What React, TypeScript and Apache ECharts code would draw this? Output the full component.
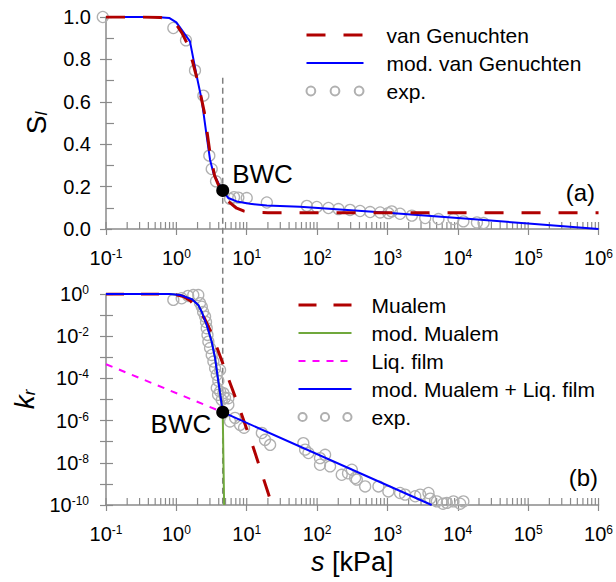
import React, { useEffect, useRef } from 'react';
import * as echarts from 'echarts';

// ---------- (a) degree of saturation ----------
const vgS = [0.1, 0.3, 0.6, 0.8, 1.0, 1.2, 1.4, 1.7, 2.0, 2.5, 3.0, 3.5, 4.0, 4.56, 5.5, 7.2, 9.0, 12.4, 20, 100, 1e3, 1e4, 1e5, 1e6];
const vgSl = [1.0, 1.0, 0.998, 0.99, 0.965, 0.925, 0.88, 0.79, 0.7, 0.55, 0.36, 0.25, 0.205, 0.17, 0.13, 0.098, 0.085, 0.079, 0.077, 0.077, 0.077, 0.077, 0.077, 0.077];

const mvgS = [0.1, 0.5, 0.8, 1.0, 1.56, 1.95, 2.29, 2.7, 3.01, 3.36, 3.95, 4.56, 5.48, 7.2, 11.1, 19.3, 57, 1e3, 1e4, 1e5, 1e6];
const mvgSl = [1.0, 1.0, 0.995, 0.975, 0.885, 0.72, 0.61, 0.437, 0.327, 0.264, 0.217, 0.182, 0.146, 0.13, 0.119, 0.111, 0.105, 0.077, 0.052, 0.026, 0.0];

const expTopS = [0.09, 0.906, 1.37, 1.84, 2.42, 2.94, 3.18, 3.66, 5.8, 6.6, 7.6, 10, 19.3, 71.5, 99, 145, 201, 294, 408, 567, 787, 1030, 1150, 1510, 2220, 3440, 5310, 8670, 12000, 18700, 23200];
const expTopSl = [1.0, 0.948, 0.89, 0.748, 0.629, 0.346, 0.283, 0.225, 0.142, 0.15, 0.148, 0.146, 0.125, 0.109, 0.104, 0.099, 0.094, 0.09, 0.085, 0.08, 0.078, 0.075, 0.083, 0.072, 0.063, 0.052, 0.047, 0.047, 0.036, 0.031, 0.028];

// ---------- (b) relative permeability ----------
const muS = [0.1, 0.63, 1.0, 1.26, 1.58, 2.0, 2.51, 3.16, 3.98, 5.01, 6.31, 7.94, 10, 12.6, 15.8, 20, 22.9];
const muK = [1, 1, 0.91, 0.76, 0.48, 0.2, 0.07, 1.4e-2, 1.8e-3, 2.2e-4, 2.8e-5, 3.5e-6, 4.0e-7, 4.5e-8, 4.5e-9, 4.0e-10, 1e-10];

const modMuS = [0.1, 0.8, 1.13, 1.65, 2.05, 2.29, 2.7, 3.18, 3.55, 3.83, 4.08, 4.28, 4.56, 4.77];
const modMuK = [1, 1, 0.89, 0.575, 0.3, 0.145, 0.034, 5.5e-3, 9.1e-4, 1.48e-4, 3.5e-5, 1.15e-5, 2.5e-6, 1e-10];

const liqS = [0.1, 4.56];
const liqK = [4.7e-4, 2.5e-6];

const mmlS = [0.1, 0.8, 1.13, 1.65, 2.05, 2.29, 2.7, 3.18, 3.55, 3.83, 4.08, 4.28, 4.56, 4250];
const mmlK = [1, 1, 0.89, 0.575, 0.3, 0.145, 0.034, 5.5e-3, 9.1e-4, 1.48e-4, 3.5e-5, 1.15e-5, 2.5e-6, 1e-10];

const expBotS = [0.906, 1.19, 1.47, 1.74, 2.05, 2.17, 2.3, 2.4, 2.56, 2.64, 2.7, 2.77, 2.85, 3.01, 3.18, 3.36, 3.55, 3.75, 3.75, 3.95, 4.18, 4.42, 4.92, 3.91, 4.18, 4.66, 5.48, 5.48, 5.79, 6.82, 8.04, 9.16, 16.4, 18.2, 21.5, 63.8, 67.6, 75.3, 110, 130, 110, 153, 224, 275, 312, 347, 367, 482, 745, 1030, 1510, 1780, 2480, 2920, 3830, 4050, 5040, 6980, 8670, 10800, 12000, 6170];
const expBotK = [0.525, 0.63, 0.81, 0.89, 0.89, 0.37, 0.25, 0.14, 0.085, 0.047, 0.024, 0.0115, 5.5e-3, 2.75e-3, 1.29e-3, 6.3e-4, 3.0e-4, 1.48e-4, 3.5e-5, 7.6e-5, 2.4e-5, 9.5e-6, 1.2e-5, 1.66e-5, 2.5e-4, 2.0e-5, 1.15e-5, 5.6e-6, 9.1e-7, 1.35e-6, 6.3e-7, 4.6e-7, 2.6e-7, 1.23e-7, 7.1e-8, 8.5e-8, 4.2e-8, 2.9e-8, 1.66e-8, 2.4e-8, 8.1e-9, 6.8e-9, 2.7e-9, 3.2e-9, 4.7e-9, 1.9e-9, 1.6e-9, 7.6e-10, 7.6e-10, 4.4e-10, 3.7e-10, 3.1e-10, 2.6e-10, 3.1e-10, 3.7e-10, 2.0e-10, 1.48e-10, 1.26e-10, 1.48e-10, 1.15e-10, 1.48e-10, 1.15e-10];

// BWC point
const bwcS = 4.56;
const bwcSl = 0.182;
const bwcK = 2.5e-6;
const bwcGuideTopSl = 0.714;
const kMin = 1e-10;

// axes
const xDecades = [-1, 0, 1, 2, 3, 4, 5];
const minorMultipliers = [1, 2, 3, 4, 5, 6, 7, 8, 9];
const xLast = 1e6;

const FONT = 'Arial, "Liberation Sans", Helvetica, sans-serif';
const AXIS = '#8a8a8a';
const RED = '#b00000';
const BLUE = '#0000ff';
const GREEN = '#70a83c';
const MAGENTA = '#ff00ff';
const GREY = '#b0b0b0';
const lg = Math.log10;

const pairs = (xs: number[], ys: number[], logY: boolean) =>
  xs.map((x, i) => [lg(x), logY ? lg(ys[i]) : ys[i]]);

const EXP_ICON =
  'path://M0,5a5,5 0 1,0 10,0a5,5 0 1,0 -10,0M27.5,5a5,5 0 1,0 10,0a5,5 0 1,0 -10,0M55,5a5,5 0 1,0 10,0a5,5 0 1,0 -10,0';

const tickRich = {
  b: { fontSize: 20, lineHeight: 20, color: '#000', fontFamily: FONT },
  sup: { fontSize: 12, lineHeight: 12, verticalAlign: 'top', color: '#000', fontFamily: FONT },
};

const hideSym = { opacity: 0 };

export default function App() {
  const ref = useRef<HTMLDivElement>(null);
  useEffect(() => {
    if (!ref.current) return;
    const chart = echarts.init(ref.current, undefined, { renderer: 'svg' });

    const minorTickVals: number[] = [];
    xDecades.forEach((d) => minorMultipliers.forEach((m) => minorTickVals.push(lg(m * Math.pow(10, d)))));
    minorTickVals.push(lg(xLast));

    const mkX = (gridIndex: number, name: string) => ({
      type: 'value',
      gridIndex,
      min: -1,
      max: 6,
      interval: 1,
      axisLine: { onZero: false, lineStyle: { color: AXIS, width: 1.5 } },
      axisTick: { show: true, inside: false, length: 6, lineStyle: { color: AXIS, width: 1.2 } },
      axisLabel: {
        margin: 19,
        formatter: (v: number) => `{b|10}{sup|${Math.round(v)}}`,
        rich: tickRich,
      },
      splitLine: { show: false },
      name,
      nameLocation: 'middle',
      nameGap: 43,
      nameTextStyle: {
        rich: {
          i: { fontSize: 27, fontStyle: 'italic', color: '#000', fontFamily: FONT },
          n: { fontSize: 27, color: '#000', fontFamily: FONT },
        },
      },
    });

    const tickSeries = (xAxisIndex: number, yAxisIndex: number, yBase: number) => ({
      type: 'custom',
      name: 'ticks' + xAxisIndex,
      xAxisIndex,
      yAxisIndex,
      silent: true,
      clip: false,
      data: minorTickVals.map((v) => [v, yBase]),
      renderItem: (params: any, api: any) => {
        const p = api.coord([api.value(0), api.value(1)]);
        return {
          type: 'line',
          shape: { x1: p[0], y1: p[1], x2: p[0], y2: p[1] - 7 },
          style: { stroke: AXIS, lineWidth: 1.2 },
        };
      },
    });

    const option: any = {
      animation: false,
      textStyle: { fontFamily: FONT },
      grid: [
        { left: 106, top: 17, width: 494, height: 212 },
        { left: 106, top: 294, width: 494, height: 211 },
      ],
      title: [
        { text: '(a)', right: 21, top: 180, padding: 0, textStyle: { fontSize: 24, fontWeight: 'normal', color: '#000', fontFamily: FONT } },
        { text: '(b)', right: 18, top: 465, padding: 0, textStyle: { fontSize: 24, fontWeight: 'normal', color: '#000', fontFamily: FONT } },
      ],
      xAxis: [mkX(0, ''), mkX(1, '{i|s}{n| [kPa]}')],
      yAxis: [
        {
          type: 'value', gridIndex: 0, position: 'left', min: 0, max: 1, interval: 0.2,
          axisLine: { onZero: false, lineStyle: { color: AXIS, width: 1.5 } },
          axisTick: { show: true, inside: false, length: 6, lineStyle: { color: AXIS, width: 1.2 } },
          axisLabel: { margin: 15, fontSize: 20, color: '#000', formatter: (v: number) => v.toFixed(1) },
          splitLine: { show: false },
          name: '{m|S}{sub|l}', nameLocation: 'middle', nameRotate: 90, nameGap: 56,
          nameTextStyle: {
            rich: {
              m: { fontSize: 28, lineHeight: 28, color: '#000', fontFamily: FONT },
              sub: { fontSize: 17, lineHeight: 17, verticalAlign: 'bottom', fontStyle: 'italic', color: '#000', fontFamily: FONT },
            },
          },
        },
        {
          type: 'value', gridIndex: 0, position: 'left', min: 0, max: 1, interval: 0.2,
          axisLine: { show: false, onZero: false },
          axisTick: { show: true, inside: true, length: 6, lineStyle: { color: AXIS, width: 1.2 } },
          minorTick: { show: true, splitNumber: 2, length: 8, lineStyle: { color: AXIS, width: 1.2 } },
          axisLabel: { show: false },
          splitLine: { show: false },
        },
        {
          type: 'value', gridIndex: 1, position: 'left', min: -10, max: 0, interval: 1,
          axisLine: { onZero: false, lineStyle: { color: AXIS, width: 1.5 } },
          axisTick: { show: true, inside: false, length: 6, lineStyle: { color: AXIS, width: 1.2 } },
          axisLabel: {
            margin: 17,
            formatter: (v: number) => (Math.round(v) % 2 === 0 ? `{b|10}{sup|${Math.round(v)}}` : ''),
            rich: tickRich,
          },
          splitLine: { show: false },
          name: '{m|k}{sub|r}', nameLocation: 'middle', nameRotate: 90, nameGap: 68,
          nameTextStyle: {
            rich: {
              m: { fontSize: 28, lineHeight: 28, fontStyle: 'italic', color: '#000', fontFamily: FONT },
              sub: { fontSize: 17, lineHeight: 17, verticalAlign: 'bottom', fontStyle: 'italic', color: '#000', fontFamily: FONT },
            },
          },
        },
        {
          type: 'value', gridIndex: 1, position: 'left', min: -10, max: 0, interval: 1,
          axisLine: { show: false, onZero: false },
          axisTick: { show: true, inside: true, length: 7, lineStyle: { color: AXIS, width: 1.2 } },
          axisLabel: { show: false },
          splitLine: { show: false },
        },
      ],
      legend: [
        {
          orient: 'vertical', left: 305, top: 24.5, padding: 0, itemWidth: 57, itemHeight: 14, itemGap: 7,
          selectedMode: false,
          textStyle: { fontSize: 21, lineHeight: 21, color: '#000', fontFamily: FONT, padding: [0, 0, 0, 18] },
          data: [
            { name: 'van Genuchten', lineStyle: { width: 3 }, itemStyle: hideSym },
            { name: 'mod. van Genuchten', lineStyle: { width: 2 }, itemStyle: hideSym },
            { name: 'exp.', icon: EXP_ICON },
          ],
        },
        {
          orient: 'vertical', left: 297, top: 294.5, padding: 0, itemWidth: 53, itemHeight: 14, itemGap: 7,
          selectedMode: false,
          textStyle: { fontSize: 21, lineHeight: 21, color: '#000', fontFamily: FONT, padding: [0, 0, 0, 15] },
          data: [
            { name: 'Mualem', lineStyle: { width: 3 }, itemStyle: hideSym },
            { name: 'mod. Mualem', lineStyle: { width: 2 }, itemStyle: hideSym },
            { name: 'Liq. film', lineStyle: { width: 2 }, itemStyle: hideSym },
            { name: 'mod. Mualem + Liq. film', lineStyle: { width: 2 }, itemStyle: hideSym },
            { name: 'exp.', icon: EXP_ICON },
          ],
        },
      ],
      series: [
        tickSeries(0, 0, 0),
        tickSeries(1, 2, lg(kMin)),
        {
          type: 'scatter', name: 'exp.', xAxisIndex: 0, yAxisIndex: 0, clip: false, z: 2,
          symbol: 'circle', symbolSize: 11,
          itemStyle: { color: 'rgba(255,255,255,0)', borderColor: GREY, borderWidth: 1.3, opacity: 1 },
          data: pairs(expTopS, expTopSl, false),
        },
        {
          type: 'line', name: 'mod. van Genuchten', xAxisIndex: 0, yAxisIndex: 0, z: 3,
          symbol: 'none', showSymbol: false,
          lineStyle: { color: BLUE, width: 2 }, itemStyle: { color: BLUE },
          data: pairs(mvgS, mvgSl, false),
        },
        {
          type: 'line', name: 'van Genuchten', xAxisIndex: 0, yAxisIndex: 0, z: 4,
          symbol: 'none', showSymbol: false,
          lineStyle: { color: RED, width: 3, type: [19, 18] }, itemStyle: { color: RED },
          data: pairs(vgS, vgSl, false),
        },
        {
          type: 'scatter', name: 'BWC', xAxisIndex: 0, yAxisIndex: 0, z: 6,
          symbol: 'circle', symbolSize: 13, itemStyle: { color: '#000', opacity: 1 },
          label: { show: true, position: 'right', offset: [-2, -16], formatter: 'BWC', fontSize: 26, color: '#000', fontFamily: FONT },
          data: [[lg(bwcS), bwcSl]],
        },
        {
          type: 'scatter', name: 'exp.', xAxisIndex: 1, yAxisIndex: 2, clip: false, z: 2,
          symbol: 'circle', symbolSize: 11,
          itemStyle: { color: 'rgba(255,255,255,0)', borderColor: GREY, borderWidth: 1.3, opacity: 1 },
          data: pairs(expBotS, expBotK, true),
        },
        {
          type: 'line', name: 'Liq. film', xAxisIndex: 1, yAxisIndex: 2, z: 3,
          symbol: 'none', showSymbol: false,
          lineStyle: { color: MAGENTA, width: 2, type: [7, 7] }, itemStyle: { color: MAGENTA },
          data: pairs(liqS, liqK, true),
        },
        {
          type: 'line', name: 'mod. Mualem', xAxisIndex: 1, yAxisIndex: 2, z: 3,
          symbol: 'none', showSymbol: false,
          lineStyle: { color: GREEN, width: 2 }, itemStyle: { color: GREEN },
          data: pairs(modMuS, modMuK, true),
        },
        {
          type: 'line', name: 'Mualem', xAxisIndex: 1, yAxisIndex: 2, z: 4,
          symbol: 'none', showSymbol: false,
          lineStyle: { color: RED, width: 3, type: [18, 17] }, itemStyle: { color: RED },
          data: pairs(muS, muK, true),
        },
        {
          type: 'line', name: 'mod. Mualem + Liq. film', xAxisIndex: 1, yAxisIndex: 2, z: 5,
          symbol: 'none', showSymbol: false,
          lineStyle: { color: BLUE, width: 2 }, itemStyle: { color: BLUE },
          data: pairs(mmlS, mmlK, true),
        },
        {
          type: 'scatter', name: 'BWC', xAxisIndex: 1, yAxisIndex: 2, z: 6,
          symbol: 'circle', symbolSize: 13, itemStyle: { color: '#000', opacity: 1 },
          label: { show: true, position: 'left', offset: [0, 12], formatter: 'BWC', fontSize: 26, color: '#000', fontFamily: FONT },
          data: [[lg(bwcS), lg(bwcK)]],
        },
      ],
    };

    chart.setOption(option);

    const p1 = chart.convertToPixel({ xAxisIndex: 0, yAxisIndex: 0 } as any, [lg(bwcS), bwcGuideTopSl]) as number[];
    const p2 = chart.convertToPixel({ xAxisIndex: 1, yAxisIndex: 2 } as any, [lg(bwcS), lg(kMin)]) as number[];
    chart.setOption({
      graphic: [
        {
          type: 'line', z: 1, silent: true,
          shape: { x1: p1[0], y1: p1[1], x2: p2[0], y2: p2[1] },
          style: { stroke: '#808080', lineWidth: 1.5, lineDash: [6, 4] },
        },
      ],
    });

    return () => chart.dispose();
  }, []);

  return <div ref={ref} style={{ position: 'fixed', left: 0, top: 0, width: 616, height: 582, background: '#fff' }} />;
}
